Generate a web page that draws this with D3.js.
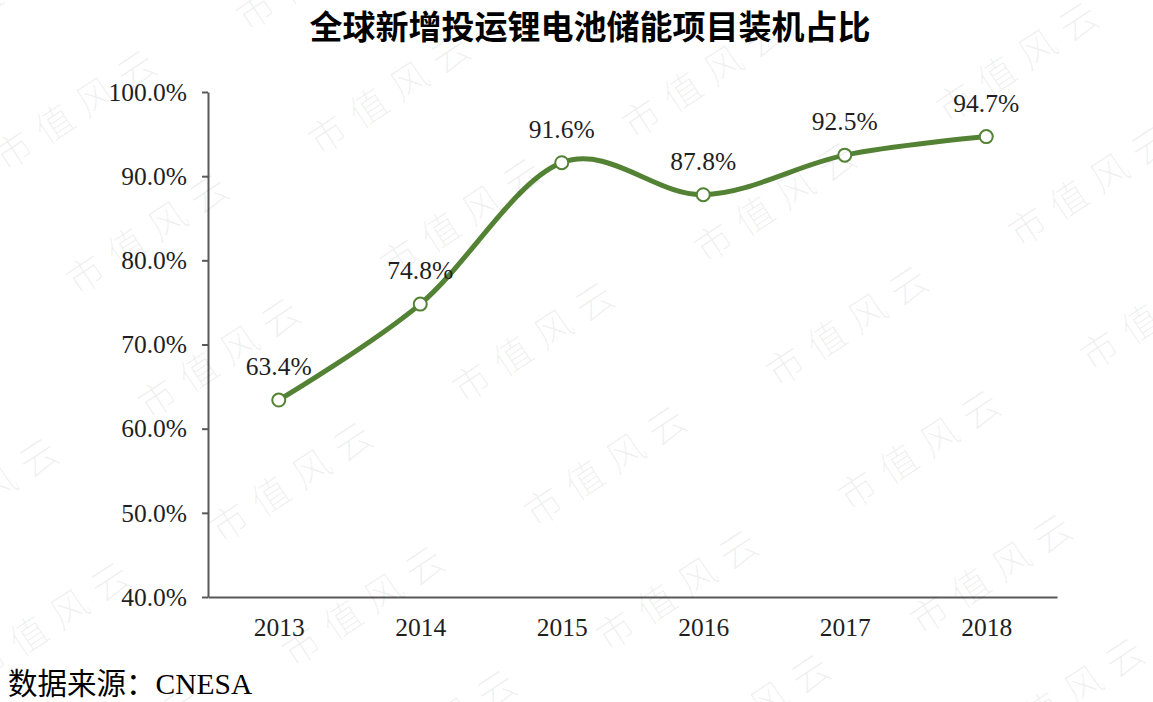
<!DOCTYPE html>
<html>
<head>
<meta charset="utf-8">
<script src="https://cdn.jsdelivr.net/npm/d3@7"></script>
<style>
  body{margin:0;background:#fff;}
</style>
</head>
<body>
<div id="chart"></div>
<script>
// data
let years=["2013","2014","2015","2016","2017","2018"];
let shares=[0.634,0.748,0.916,0.878,0.925,0.947];
let yTicks=[0.4,0.5,0.6,0.7,0.8,0.9,1.0];
let title="全球新增投运锂电池储能项目装机占比";
let source="数据来源：CNESA";
let watermark="市值风云";

let w=1153;
let h=702;
let plotLeft=208, plotRight=1057, plotTop=92, plotBottom=597;
let serif="'Liberation Serif','Times New Roman','Noto Sans CJK SC',serif";
let green="#548235";
let textColor="#1f1f1f";

let svg=d3.select("#chart").append("svg")
  .attr("width",w)
  .attr("height",h)
  ;

let xScale=d3.scalePoint().domain(years).range([plotLeft,plotRight]).padding(0.5);
let yScale=d3.scaleLinear().domain([0.4,1.0]).range([plotBottom,plotTop]);

// title
svg.append("text")
  .text(title)
  .attr("x",590)
  .attr("y",39)
  .attr("text-anchor","middle")
  .style("font-family","'Noto Sans CJK SC',sans-serif")
  .style("font-weight","700")
  .style("font-size","33px")
  .attr("fill","#000")
  ;

// y axis
let yAxis=d3.axisLeft(yScale)
  .tickValues(yTicks)
  .tickFormat(d3.format(".1%"))
  .tickSizeInner(6)
  .tickSizeOuter(0)
  .tickPadding(15);
let yAxisGroup=svg.append("g")
  .attr("transform","translate("+plotLeft+",0)")
  .call(yAxis);
yAxisGroup.select(".domain").attr("stroke","#595959").attr("stroke-width",2);
yAxisGroup.selectAll(".tick line").attr("stroke","#595959").attr("stroke-width",2);
yAxisGroup.selectAll(".tick text")
  .style("font-family",serif)
  .style("font-size","25.5px")
  .attr("fill",textColor);

// x axis
let xAxis=d3.axisBottom(xScale).tickSize(0).tickPadding(21);
let xAxisGroup=svg.append("g")
  .attr("transform","translate(0,"+plotBottom+")")
  .call(xAxis);
xAxisGroup.select(".domain").attr("stroke","#595959").attr("stroke-width",2);
xAxisGroup.selectAll(".tick text")
  .style("font-family",serif)
  .style("font-size","25.5px")
  .attr("fill",textColor);

// line
let points=years.map(function(d,i){ return {year:d,value:shares[i]}; });
let lineMaker=d3.line()
  .x(function(d){ return xScale(d.year); })
  .y(function(d){ return yScale(d.value); })
  .curve(d3.curveCardinal.tension(0));

svg.append("path")
  .datum(points)
  .attr("d",lineMaker)
  .attr("fill","none")
  .attr("stroke",green)
  .attr("stroke-width",5)
  .attr("stroke-linecap","round");

svg.selectAll(".marker").data(points).enter()
  .append("circle")
  .attr("class","marker")
  .attr("cx",function(d){ return xScale(d.year); })
  .attr("cy",function(d){ return yScale(d.value); })
  .attr("r",6.5)
  .attr("fill","#fff")
  .attr("stroke",green)
  .attr("stroke-width",2);

svg.selectAll(".valueLabel").data(points).enter()
  .append("text")
  .attr("class","valueLabel")
  .text(function(d){ return d3.format(".1%")(d.value); })
  .attr("x",function(d){ return xScale(d.year); })
  .attr("y",function(d){ return yScale(d.value)-25; })
  .attr("text-anchor","middle")
  .style("font-family",serif)
  .style("font-size","25.5px")
  .attr("fill",textColor);

// source
svg.append("text")
  .text(source)
  .attr("x",8)
  .attr("y",694)
  .style("font-family",serif)
  .style("font-size","29.5px")
  .attr("fill","#000");

// watermark grid
let wmGroup=svg.append("g").style("pointer-events","none");
for(let j=-1;j<=6;j++){
  for(let i=-2;i<=4;i++){
    let cx=78+i*314+j*72;
    let cy=105-i*16+j*124;
    if(cx<-60||cx>w+60||cy<-40||cy>h+40) continue;
    wmGroup.append("text")
      .text(watermark)
      .attr("transform","translate("+cx+","+cy+") rotate(-33.5)")
      .attr("text-anchor","middle")
      .attr("dominant-baseline","central")
      .style("font-family","'Noto Sans CJK SC',sans-serif")
      .style("font-weight","300")
      .style("font-size","38px")
      .style("letter-spacing","11px")
      .attr("fill","#000")
      .attr("fill-opacity",0.06);
  }
}
</script>
</body>
</html>
